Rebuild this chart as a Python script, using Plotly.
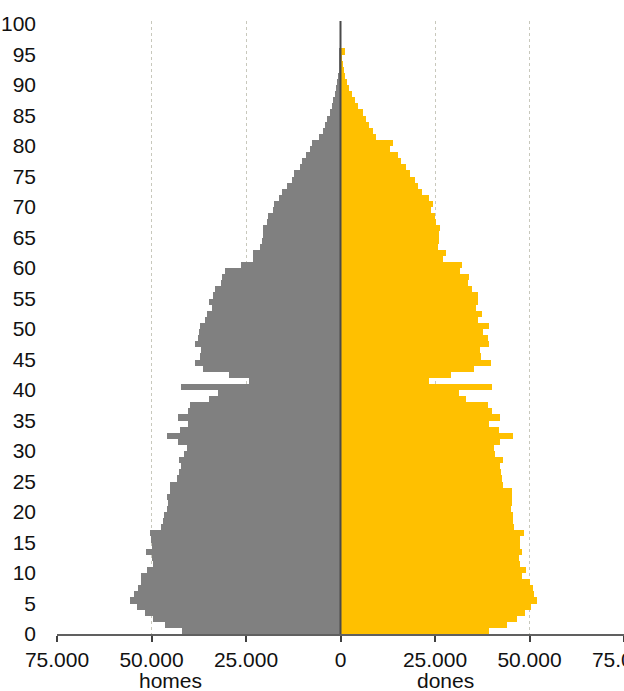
import plotly.graph_objects as go

# population by single year of age (95 = 95 and over)
ages = list(range(96))

men = [
    42000, 46500, 49500, 51600, 53800, 55600, 54700, 53500, 52700, 52800,
    51200, 49700, 49900, 51400, 49900, 50200, 50300, 47400, 47000, 46600,
    46000, 45600, 46000, 45200, 45000, 43300, 42800, 42100, 42800, 41500,
    40600, 42900, 46000, 42400, 40300, 42900, 40300, 39800, 34700, 32400,
    42100, 24100, 29400, 36400, 38600, 37300, 36800, 38400, 37800, 37500,
    37100, 35900, 35400, 33900, 34800, 33600, 33200, 31700, 31300, 30600,
    26200, 23200, 23100, 21200, 20900, 20500, 20400, 19500, 19200, 17900,
    17600, 16300, 15400, 14100, 12900, 12200, 10800, 10100, 9200, 8100,
    7600, 5600, 4700, 4100, 3600, 2900, 2200, 1900, 1500, 1100,
    900, 700, 450, 350, 260, 500,
]

women = [
    39400, 44100, 46600, 48900, 50500, 52100, 51300, 51000, 50000, 47900,
    49200, 47400, 47200, 48100, 47400, 47500, 48500, 46000, 45600, 45600,
    45100, 45400, 45400, 45500, 42900, 42800, 42400, 42100, 43000, 41000,
    40700, 42200, 45700, 41900, 39400, 42100, 40200, 39000, 33200, 31300,
    40100, 23400, 29100, 35300, 39700, 37200, 36800, 39300, 39100, 37800,
    39300, 36400, 37400, 35900, 36400, 36300, 34800, 33700, 34100, 31700,
    32200, 27200, 28000, 25800, 26000, 26000, 26400, 25300, 25000, 24000,
    24400, 23300, 21600, 20500, 19700, 18400, 17200, 16000, 15300, 13200,
    13800, 9400, 8600, 7500, 6800, 5900, 4700, 3800, 3100, 2300,
    1800, 1200, 900, 600, 450, 1200,
]

x_tick_vals = [-75000, -50000, -25000, 0, 25000, 50000, 75000]
x_tick_text = ["75.000", "50.000", "25.000", "0", "25.000", "50.000", "75.000"]

FONT = "Liberation Sans, Arial, sans-serif"

fig = go.Figure()
fig.add_trace(go.Bar(
    y=ages, x=[-v for v in men], orientation="h", width=1, offset=0,
    marker=dict(color="#808080", line=dict(width=0)), name="homes",
))
fig.add_trace(go.Bar(
    y=ages, x=women, orientation="h", width=1, offset=0,
    marker=dict(color="#FFC000", line=dict(width=0)), name="dones",
))

# centre line
fig.add_shape(type="line", x0=0, x1=0, y0=0, y1=1, xref="x", yref="paper",
              line=dict(color="#4a4a4a", width=2), layer="above")

fig.add_annotation(text="homes", x=0.201, y=0, xref="paper", yref="paper",
                   xanchor="center", yanchor="middle", yshift=-46, showarrow=False,
                   font=dict(size=21, color="#111", family=FONT))
fig.add_annotation(text="dones", x=0.686, y=0, xref="paper", yref="paper",
                   xanchor="center", yanchor="middle", yshift=-46, showarrow=False,
                   font=dict(size=21, color="#111", family=FONT))

fig.update_layout(
    width=624, height=691,
    template="none",
    barmode="relative", bargap=0,
    showlegend=False,
    margin=dict(l=57, r=0, t=21, b=57),
    plot_bgcolor="white", paper_bgcolor="white",
    font=dict(family=FONT, size=21, color="#111"),
    xaxis=dict(
        range=[-75000, 75000], tickvals=x_tick_vals, ticktext=x_tick_text,
        showgrid=True, gridcolor="#c8c8bc", griddash="dot", gridwidth=1,
        zeroline=False, showline=True, linecolor="#606060", linewidth=1.5,
        ticks="outside", ticklen=6, tickcolor="#404040", tickwidth=1.5,
        tickfont=dict(size=21), ticklabeloverflow="allow", fixedrange=True,
    ),
    xaxis2=dict(
        overlaying="x", matches="x", range=[-75000, 75000], tickvals=x_tick_vals,
        showticklabels=False, showgrid=False, zeroline=False, showline=False,
        ticks="inside", ticklen=6, tickcolor="#404040", tickwidth=1.5,
    ),
    yaxis=dict(
        range=[0, 100.5], tick0=0, dtick=5, showgrid=False, zeroline=False,
        showline=False, ticks="", tickfont=dict(size=21),
        ticklabelstandoff=20, fixedrange=True,
    ),
)

# page body has a default margin; drop it so the figure sits at the corner
fig.write_html("out.html", config={"displayModeBar": False},
               post_script="document.body.style.margin='0';")
